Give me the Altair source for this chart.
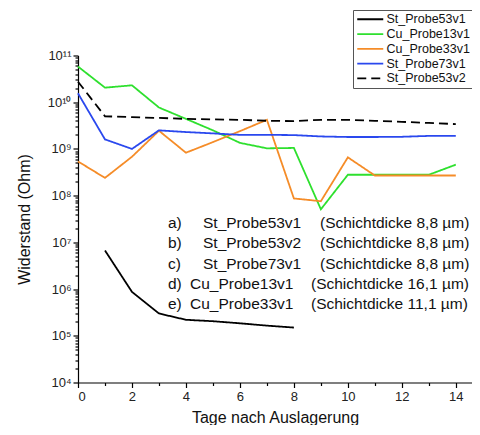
import altair as alt
import pandas as pd

FONT = "Liberation Sans"

days = list(range(15))
names = ["St_Probe53v1", "Cu_Probe13v1", "Cu_Probe33v1", "St_Probe73v1", "St_Probe53v2"]
colors = ["#000000", "#2ee02e", "#f58c28", "#2a48ee", "#000000"]
dashes = [[1, 0], [1, 0], [1, 0], [1, 0], [9, 5]]

st53v1 = [None, 6.7e6, 8.7e5, 3.0e5, 2.2e5, 2.05e5, 1.85e5, 1.65e5, 1.5e5,
          None, None, None, None, None, None]
cu13v1 = [5.8e10, 2.05e10, 2.3e10, 7.7e9, 4.4e9, 2.5e9, 1.35e9, 1.03e9, 1.05e9,
          5.1e7, 2.8e8, 2.8e8, 2.8e8, 2.8e8, 4.6e8]
cu33v1 = [5.4e8, 2.4e8, 6.8e8, 2.45e9, 8.3e8, 1.4e9, 2.4e9, 4.2e9, 8.7e7,
          7.6e7, 6.6e8, 2.7e8, 2.7e8, 2.7e8, 2.7e8]
st73v1 = [1.55e10, 1.6e9, 1.0e9, 2.5e9, 2.3e9, 2.15e9, 2.0e9, 2.0e9, 1.98e9,
          1.85e9, 1.8e9, 1.8e9, 1.82e9, 1.9e9, 1.9e9]
st53v2 = [2.75e10, 5.0e9, 4.8e9, 4.6e9, 4.4e9, 4.3e9, 4.2e9, 4.0e9, 3.95e9,
          4.2e9, 4.2e9, 4.0e9, 3.8e9, 3.6e9, 3.4e9]

series = [st53v1, cu13v1, cu33v1, st73v1, st53v2]

ann_prefix = ["a)", "b)", "c)", "d)", "e)"]
ann_name = ["St_Probe53v1", "St_Probe53v2", "St_Probe73v1", "Cu_Probe13v1", "Cu_Probe33v1"]
ann_thick = ["(Schichtdicke 8,8 µm)", "(Schichtdicke 8,8 µm)", "(Schichtdicke 8,8 µm)",
             "(Schichtdicke 16,1 µm)", "(Schichtdicke 11,1 µm)"]

rows = []
for name, vals in zip(names, series):
    for d, v in zip(days, vals):
        if v is not None:
            rows.append({"Tag": d, "Widerstand": v, "Probe": name})
df = pd.DataFrame(rows)

sup = {4: "10⁴", 5: "10⁵", 6: "10⁶", 7: "10⁷", 8: "10⁸", 9: "10⁹", 10: "10¹⁰", 11: "10¹¹"}
exp_expr = "round(log(datum.value)/LN10)"
is_dec = f"abs(log(datum.value)/LN10 - {exp_expr}) < 0.001"
lab = "''"
for k in sorted(sup, reverse=True):
    lab = f"({exp_expr} == {k} ? '{sup[k]}' : {lab})"
y_label_expr = f"{is_dec} ? {lab} : ''"

y_values = [m * 10 ** k for k in range(4, 11) for m in range(1, 10)] + [10 ** 11]

legend = alt.Legend(
    title=None, orient="none", legendX=275, legendY=-45.5,
    strokeColor="#555555", fillColor="white", padding=3,
    labelFont=FONT, labelFontSize=12.5, labelColor="#111111",
    symbolType="M-1,0H4.2", symbolSize=100, symbolStrokeWidth=1.8,
    symbolOffset=0, labelOffset=18, rowPadding=1.8,
)

x_scale = alt.Scale(domain=[0, 14.6], nice=False, zero=False)
y_scale = alt.Scale(type="log", domain=[1e4, 1e11], nice=False)

lines = alt.Chart(df).mark_line(strokeWidth=1.8).encode(
    x=alt.X("Tag:Q", scale=x_scale, axis=alt.Axis(
        title="Tage nach Auslagerung", values=days,
        labelExpr="datum.value % 2 == 0 ? datum.label : ''",
        tickSize={"condition": {"test": "datum.value % 2 == 0", "value": 5}, "value": 3},
        grid=False)),
    y=alt.Y("Widerstand:Q", scale=y_scale, axis=alt.Axis(
        title="Widerstand (Ohm)", values=y_values, labelExpr=y_label_expr,
        tickSize={"condition": {"test": is_dec, "value": 5}, "value": 3},
        grid=False, titlePadding=15)),
    color=alt.Color("Probe:N", scale=alt.Scale(domain=names, range=colors), legend=legend),
    strokeDash=alt.StrokeDash("Probe:N", scale=alt.Scale(domain=names, range=dashes), legend=legend),
)

ann = pd.DataFrame({"prefix": ann_prefix, "name": ann_name, "thick": ann_thick,
                    "row": list(range(5))})
ann["group"] = ["St", "St", "St", "Cu", "Cu"]

row_y = alt.Y("row:Q", scale=alt.Scale(domain=[0, 4], range=[167.5, 248.5]), axis=None)
tstyle = dict(align="left", baseline="middle", font=FONT, fontSize=15.5, color="#111111")

t_prefix = alt.Chart(ann).mark_text(**tstyle).encode(
    x=alt.value(90), y=row_y, text="prefix:N")
t_name_st = alt.Chart(ann).transform_filter("datum.group == 'St'").mark_text(**tstyle).encode(
    x=alt.value(125), y=row_y, text="name:N")
t_name_cu = alt.Chart(ann).transform_filter("datum.group == 'Cu'").mark_text(**tstyle).encode(
    x=alt.value(112), y=row_y, text="name:N")
t_thick_st = alt.Chart(ann).transform_filter("datum.group == 'St'").mark_text(**tstyle).encode(
    x=alt.value(242), y=row_y, text="thick:N")
t_thick_cu = alt.Chart(ann).transform_filter("datum.group == 'Cu'").mark_text(**tstyle).encode(
    x=alt.value(233), y=row_y, text="thick:N")

texts = alt.layer(t_prefix, t_name_st, t_name_cu, t_thick_st, t_thick_cu)

chart = alt.layer(lines, texts).resolve_scale(y="independent").properties(
    width=394, height=327,
    autosize=alt.AutoSizeParams(type="none"),
    padding={"left": 70, "top": 47.5, "right": 0, "bottom": 42},
).configure_view(stroke=None).configure_axis(
    domainColor="#000000", tickColor="#000000", labelColor="#222222",
    labelFont=FONT, titleFont=FONT, labelFontSize=13, titleFontSize=16,
    titleFontWeight="normal", titleColor="#111111", domainWidth=1.2, tickWidth=1.2,
).configure_axisX(titlePadding=6, labelPadding=3)

chart.save("out.html", embed_options={"renderer": "svg", "actions": False})
